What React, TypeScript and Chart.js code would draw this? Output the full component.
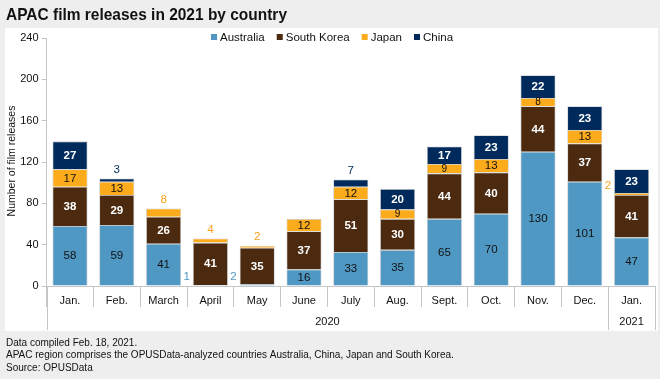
import React, { useEffect, useRef } from "react";
import { Chart, registerables } from "chart.js";

Chart.register(...registerables);

const title = "APAC film releases in 2021 by country";
const months = ["Jan.", "Feb.", "March", "April", "May", "June", "July", "Aug.", "Sept.", "Oct.", "Nov.", "Dec.", "Jan."];
const monthYears = ["2020", "2020", "2020", "2020", "2020", "2020", "2020", "2020", "2020", "2020", "2020", "2020", "2021"];
const australia = [58, 59, 41, 1, 2, 16, 33, 35, 65, 70, 130, 101, 47];
const southKorea = [38, 29, 26, 41, 35, 37, 51, 30, 44, 40, 44, 37, 41];
const japan = [17, 13, 8, 4, 2, 12, 12, 9, 9, 13, 8, 13, 2];
const china = [27, 3, 0, 0, 0, 0, 7, 20, 17, 23, 22, 23, 23];
const yTicks = [0, 40, 80, 120, 160, 200, 240];
const yTitle = "Number of film releases";
const footnotes = [
  "Data compiled Feb. 18, 2021.",
  "APAC region comprises the OPUSData-analyzed countries Australia, China, Japan and South Korea.",
  "Source: OPUSData",
];

const seriesNames = ["Australia", "South Korea", "Japan", "China"];
const seriesColors = ["#4f98c3", "#4b2a10", "#fcab1c", "#002a5c"];
const outsideColors = ["#4f98c3", "#4b2a10", "#f7a21b", "#002a5c"];
const insideColors = ["#111111", "#ffffff", "#111111", "#ffffff"];
const insideBold = [false, true, false, true];

const SANS = '"Liberation Sans", Arial, sans-serif';
const NARROW = '"Liberation Sans Narrow", "Liberation Sans", Arial, sans-serif';

function drawFitted(ctx: CanvasRenderingContext2D, text: string, x: number, y: number, maxW: number) {
  const w = ctx.measureText(text).width;
  if (w > maxW) {
    ctx.save();
    ctx.translate(x, y);
    ctx.scale(maxW / w, 1);
    ctx.fillText(text, 0, 0);
    ctx.restore();
  } else {
    ctx.fillText(text, x, y);
  }
}

const decorPlugin = {
  id: "decor",
  beforeDraw(chart: any) {
    const ctx = chart.ctx as CanvasRenderingContext2D;
    ctx.save();
    ctx.fillStyle = "#eeeeee";
    ctx.fillRect(0, 0, chart.width, chart.height);
    ctx.fillStyle = "#ffffff";
    ctx.fillRect(5, 28, 653, 303);

    // title
    ctx.fillStyle = "#111111";
    ctx.font = `bold 17px ${NARROW}`;
    ctx.textBaseline = "middle";
    ctx.textAlign = "left";
    drawFitted(ctx, title, 6, 15, 281);

    // y title
    ctx.save();
    ctx.translate(12, 161);
    ctx.rotate(-Math.PI / 2);
    ctx.font = `10.5px ${SANS}`;
    ctx.textAlign = "center";
    ctx.fillStyle = "#111111";
    ctx.fillText(yTitle, 0, 0);
    ctx.restore();

    // legend
    ctx.font = `11.5px ${SANS}`;
    ctx.textBaseline = "middle";
    let lx = 211;
    seriesNames.forEach((name, i) => {
      ctx.fillStyle = seriesColors[i];
      ctx.fillRect(lx, 34, 6, 6);
      ctx.fillStyle = "#111111";
      ctx.fillText(name, lx + 9, 37.5);
      lx += 9 + ctx.measureText(name).width + 12;
    });

    // footnotes
    ctx.font = `10px ${NARROW}`;
    ctx.fillStyle = "#111111";
    footnotes.forEach((f, i) => {
      ctx.fillText(f, 6, 343 + i * 12.5);
    });
    ctx.restore();
  },
  afterDraw(chart: any) {
    const ctx = chart.ctx as CanvasRenderingContext2D;
    const xs = chart.scales.x;
    const area = chart.chartArea;
    const half = (xs.getPixelForValue(1) - xs.getPixelForValue(0)) / 2;
    ctx.save();
    ctx.strokeStyle = "#c6c6c6";
    ctx.lineWidth = 1;
    const groups: { year: string; start: number; end: number }[] = [];
    monthYears.forEach((y, i) => {
      const g = groups[groups.length - 1];
      if (g && g.year === y) g.end = i;
      else groups.push({ year: y, start: i, end: i });
    });
    ctx.font = `11px ${SANS}`;
    ctx.fillStyle = "#111111";
    ctx.textAlign = "center";
    ctx.textBaseline = "middle";
    groups.forEach((g) => {
      const x0 = xs.getPixelForValue(g.start) - half;
      const x1 = xs.getPixelForValue(g.end) + half;
      [x0, x1].forEach((x) => {
        ctx.beginPath();
        ctx.moveTo(Math.round(x) + 0.5, area.bottom);
        ctx.lineTo(Math.round(x) + 0.5, 330);
        ctx.stroke();
      });
      ctx.fillText(g.year, (x0 + x1) / 2, 321.5);
    });
    ctx.restore();
  },
  afterDatasetsDraw(chart: any) {
    const ctx = chart.ctx as CanvasRenderingContext2D;
    const datasets = chart.data.datasets;
    ctx.save();
    ctx.textBaseline = "middle";
    for (let j = 0; j < months.length; j++) {
      let topIdx = -1;
      datasets.forEach((d: any, i: number) => {
        if (d.data[j] > 0) topIdx = i;
      });
      datasets.forEach((d: any, i: number) => {
        const v = d.data[j];
        if (!v) return;
        const bar = chart.getDatasetMeta(i).data[j] as any;
        const top = Math.min(bar.y, bar.base);
        const bottom = Math.max(bar.y, bar.base);
        const h = bottom - top;
        const left = bar.x - bar.width / 2;
        if (i === topIdx && v < 10) {
          ctx.font = `11.5px ${SANS}`;
          ctx.fillStyle = outsideColors[i];
          ctx.textAlign = "center";
          ctx.fillText(String(v), bar.x, top - 9);
        } else if (v < 5) {
          ctx.font = `11.5px ${SANS}`;
          ctx.fillStyle = outsideColors[i];
          ctx.textAlign = "right";
          ctx.fillText(String(v), left - 3, Math.min((top + bottom) / 2, bottom - 9));
        } else {
          const size = h < 12 ? 10 : 11.5;
          ctx.font = `${insideBold[i] ? "bold " : ""}${size}px ${SANS}`;
          ctx.fillStyle = insideColors[i];
          ctx.textAlign = "center";
          ctx.fillText(String(v), bar.x, (top + bottom) / 2 + 0.5);
        }
      });
    }
    ctx.restore();
  },
};

export default function App() {
  const ref = useRef<HTMLCanvasElement | null>(null);
  useEffect(() => {
    document.body.style.margin = "0";
    const canvas = ref.current!;
    const seriesData = [australia, southKorea, japan, china];
    const chart = new Chart(canvas, {
      type: "bar",
      data: {
        labels: months,
        datasets: seriesNames.map((name, i) => ({
          label: name,
          data: seriesData[i],
          backgroundColor: seriesColors[i],
          borderColor: "#c9c9c9",
          borderWidth: 0.8,
          categoryPercentage: 0.75,
          barPercentage: 1,
        })),
      },
      options: {
        animation: false,
        responsive: false,
        devicePixelRatio: 1,
        layout: { padding: { top: 38, right: 5, bottom: 49, left: 0 } },
        plugins: {
          legend: { display: false },
          title: { display: false },
          tooltip: { enabled: false },
        },
        scales: {
          x: {
            stacked: true,
            offset: true,
            grid: {
              display: true,
              drawOnChartArea: false,
              offset: true,
              tickLength: 21,
              color: "#c6c6c6",
            },
            border: { display: true, color: "#c6c6c6" },
            ticks: {
              padding: -13,
              maxRotation: 0,
              autoSkip: false,
              color: "#111111",
              font: { family: SANS, size: 11 },
            },
            afterFit: (scale: any) => {
              scale.height = 44;
            },
          },
          y: {
            stacked: true,
            min: 0,
            max: 240,
            afterBuildTicks: (scale: any) => {
              scale.ticks = yTicks.map((v) => ({ value: v }));
            },
            grid: {
              display: true,
              drawOnChartArea: false,
              tickLength: 5,
              color: "#c6c6c6",
            },
            border: { display: true, color: "#c6c6c6" },
            ticks: {
              padding: 3,
              color: "#111111",
              font: { family: SANS, size: 11 },
            },
            afterFit: (scale: any) => {
              scale.width = 46.6;
            },
          },
        },
      },
      plugins: [decorPlugin],
    });
    return () => chart.destroy();
  }, []);
  return (
    <div style={{ position: "absolute", left: 0, top: 0, width: 660, height: 379 }}>
      <canvas ref={ref} width={660} height={379} style={{ width: 660, height: 379, display: "block" }} />
    </div>
  );
}
